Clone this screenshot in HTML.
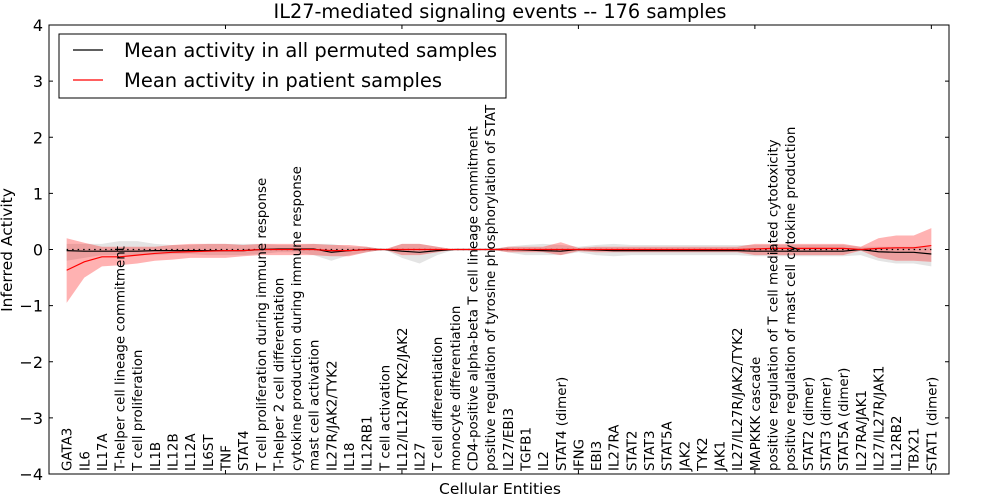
<!DOCTYPE html>
<html><head><meta charset="utf-8"><style>
body{margin:0;background:#fff;}
svg{display:block;font-family:"DejaVu Sans","Liberation Sans",sans-serif;}
</style></head><body>
<svg id="chart" width="1000" height="500">
<rect width="1000" height="500" fill="#fff"/>
<text x="500" y="18" font-size="19.3" text-anchor="middle">IL27-mediated signaling events -- 176 samples</text>
<g id="bands"></g><g id="lines"></g><g id="labels"></g><g id="axes"></g>
<text x="500" y="494" font-size="15.5" text-anchor="middle">Cellular Entities</text>
<text transform="translate(12,250) rotate(-90)" font-size="15.5" text-anchor="middle">Inferred Activity</text>
<g>
<rect x="59" y="34" width="447" height="64" fill="#fff" stroke="#000" stroke-width="1"/>
<line x1="73" y1="50" x2="103" y2="50" stroke="#000" stroke-width="1.2"/>
<text x="124" y="57" font-size="19.5">Mean activity in all permuted samples</text>
<line x1="73" y1="80" x2="103" y2="80" stroke="#f00" stroke-width="1.2"/>
<text x="124" y="87" font-size="19.5">Mean activity in patient samples</text>
</g>
</svg>
<script>
const categories=["GATA3","IL6","IL17A","T-helper cell lineage commitment","T cell proliferation","IL1B","IL12B","IL12A","IL6ST","TNF","STAT4","T cell proliferation during immune response","T-helper 2 cell differentiation","cytokine production during immune response","mast cell activation","IL27R/JAK2/TYK2","IL18","IL12RB1","T cell activation","IL12/IL12R/TYK2/JAK2","IL27","T cell differentiation","monocyte differentiation","CD4-positive alpha-beta T cell lineage commitment","positive regulation of tyrosine phosphorylation of STAT","IL27/EBI3","TGFB1","IL2","STAT4 (dimer)","IFNG","EBI3","IL27RA","STAT2","STAT3","STAT5A","JAK2","TYK2","JAK1","IL27/IL27R/JAK2/TYK2","MAPKKK cascade","positive regulation of T cell mediated cytotoxicity","positive regulation of mast cell cytokine production","STAT2 (dimer)","STAT3 (dimer)","STAT5A (dimer)","IL27RA/JAK1","IL27/IL27R/JAK1","IL12RB2","TBX21","STAT1 (dimer)"];
const permMean=[-0.02,-0.03,-0.03,-0.03,-0.03,-0.02,-0.02,-0.02,-0.02,-0.02,-0.02,0,0.01,0.01,0.01,-0.05,-0.02,0,0,-0.03,-0.05,-0.02,0,0,0,0,-0.01,-0.02,-0.03,0,-0.01,-0.02,-0.02,-0.02,-0.02,-0.02,-0.02,-0.02,-0.02,-0.03,-0.03,-0.03,-0.03,-0.03,-0.03,0,-0.04,-0.05,-0.05,-0.08];
const permLo=[-0.2,-0.15,-0.1,-0.1,-0.1,-0.1,-0.08,-0.08,-0.1,-0.1,-0.1,-0.08,-0.05,-0.05,-0.1,-0.2,-0.1,-0.05,0,-0.15,-0.25,-0.1,0,0,0,-0.05,-0.1,-0.1,-0.1,-0.05,-0.1,-0.12,-0.1,-0.1,-0.1,-0.1,-0.1,-0.1,-0.1,-0.12,-0.12,-0.12,-0.12,-0.12,-0.12,-0.1,-0.2,-0.25,-0.25,-0.3];
const permHi=[0.1,0.1,0.1,0.15,0.15,0.1,0.08,0.08,0.1,0.1,0.1,0.1,0.08,0.08,0.1,0.1,0.05,0.05,0,0.1,0.1,0.05,0,0,0,0.05,0.08,0.1,0.08,0.05,0.08,0.1,0.08,0.08,0.08,0.08,0.08,0.08,0.08,0.08,0.08,0.08,0.08,0.08,0.08,0.05,0.05,0.05,0.05,0.05];
const patMean=[-0.37,-0.22,-0.13,-0.13,-0.1,-0.07,-0.05,-0.04,-0.03,-0.02,-0.02,0,0,0,0,-0.02,-0.02,0,0,0,0,0,0,0,0,0,0,0,0,0,0,0,0,0,0,0,0,0,0,0.01,0.02,0.02,0.02,0.02,0.02,0,0.02,0.03,0.03,0.07];
const patLo=[-0.95,-0.5,-0.3,-0.28,-0.25,-0.2,-0.18,-0.15,-0.15,-0.15,-0.12,-0.1,-0.1,-0.1,-0.1,-0.12,-0.12,-0.05,0,-0.1,-0.1,-0.05,0,0,0,-0.05,-0.05,-0.05,-0.1,-0.03,-0.05,-0.05,-0.05,-0.05,-0.05,-0.05,-0.05,-0.05,-0.05,-0.1,-0.1,-0.1,-0.1,-0.1,-0.1,-0.02,-0.15,-0.2,-0.2,-0.22];
const patHi=[0.2,0.12,0.05,0.05,0.05,0.05,0.08,0.1,0.1,0.1,0.08,0.1,0.1,0.1,0.1,0.08,0.08,0.05,0,0.1,0.1,0.05,0,0,0,0.05,0.05,0.05,0.13,0.03,0.05,0.05,0.05,0.05,0.05,0.05,0.05,0.05,0.05,0.1,0.1,0.1,0.1,0.1,0.1,0.05,0.2,0.25,0.25,0.38];
const yTicks=[4,3,2,1,0,-1,-2,-3,-4];
const yTickLabels=["4","3","2","1","0","\u22121","\u22122","\u22123","\u22124"];
const xTicks=[10,20,30,40,50];

const L=49,R=949,T=25,B=474;
const x=i=>L+(i+1)*(R-L)/51;
const y=v=>T+(4-v)*(B-T)/8;
const NS="http://www.w3.org/2000/svg";
function mk(tag,parent,attrs){const e=document.createElementNS(NS,tag);for(const k in attrs)e.setAttribute(k,attrs[k]);document.getElementById(parent).appendChild(e);return e;}
function band(lo,hi){let d="";lo.forEach((v,i)=>d+=(i?"L":"M")+x(i)+","+y(v));for(let i=hi.length-1;i>=0;i--)d+="L"+x(i)+","+y(hi[i]);return d+"Z";}
function line(a){return a.map((v,i)=>(i?"L":"M")+x(i)+","+y(v)).join("");}
let e;
e=mk("path","bands",{d:band(permLo,permHi),fill:"#bbb","fill-opacity":"0.4"});


e=mk("path","bands",{d:band(patLo,patHi),fill:"#f00","fill-opacity":"0.3"});


e=mk("line","lines",{x1:x(0),x2:x(49),y1:y(0),y2:y(0),stroke:"#000","stroke-dasharray":"1.5,4","stroke-width":"1.3"});


e=mk("path","lines",{d:line(permMean),fill:"none",stroke:"#000","stroke-width":"1.2"});


e=mk("path","lines",{d:line(patMean),fill:"none",stroke:"#f00","stroke-width":"1.2"});


categories.forEach((c,i)=>{
  const t=mk("text","labels",{transform:"translate("+(x(i)+5)+",471) rotate(-90)","font-size":"13.4"});
  t.textContent=c;
  
  
});
e=mk("rect","axes",{x:L,y:T,width:R-L,height:B-T,fill:"none",stroke:"#000","stroke-width":"1"});


yTicks.forEach((v,i)=>{
  mk("line","axes",{x1:L,x2:L+4,y1:y(v),y2:y(v),stroke:"#000"});
  mk("line","axes",{x1:R-4,x2:R,y1:y(v),y2:y(v),stroke:"#000"});
  const t=mk("text","axes",{x:L-6,y:y(v)+6,"font-size":"16","text-anchor":"end"});
  t.textContent=yTickLabels[i];
  
  
});
xTicks.forEach(v=>{
  const px=L+v*(R-L)/51;
  mk("line","axes",{x1:px,x2:px,y1:T,y2:T+4,stroke:"#000"});
  mk("line","axes",{x1:px,x2:px,y1:B-4,y2:B,stroke:"#000"});
});
</script>
</body></html>
